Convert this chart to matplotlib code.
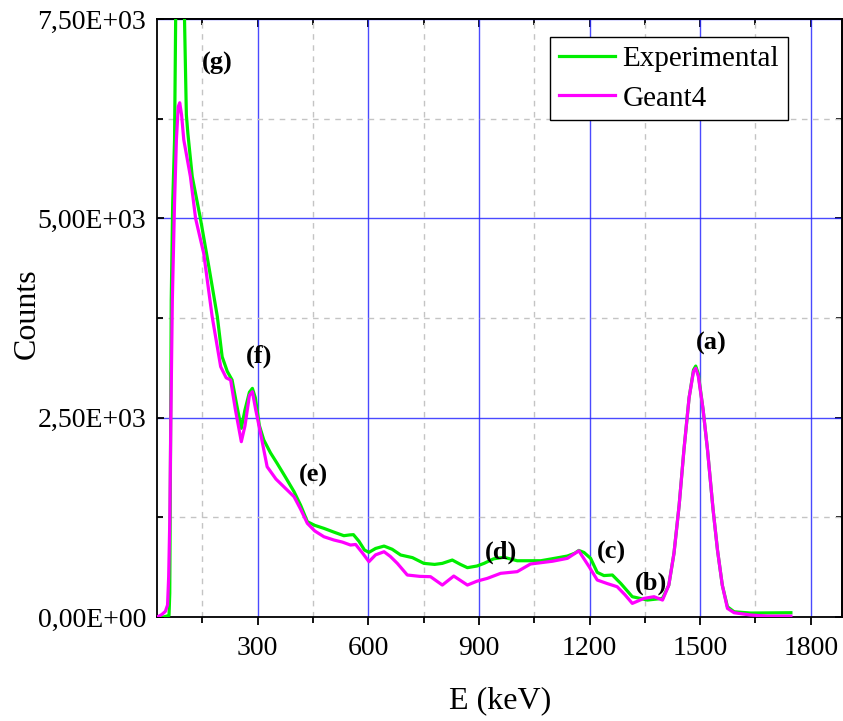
import matplotlib
matplotlib.use('Agg')
import matplotlib.pyplot as plt
import matplotlib.ticker as mticker

# energy (keV) / counts
exp_e = [28, 45, 60, 62, 64, 66, 70, 75, 78, 84, 90, 96, 102, 107, 111, 123, 145, 168,
         191, 204, 218, 231, 244, 256, 266, 278, 286, 294, 305, 317, 335, 353, 375, 399,
         417, 435, 455, 480, 507, 534, 550, 560, 575, 590, 602, 620, 643, 665, 688, 720,
         751, 780, 801, 828, 850, 869, 895, 914, 940, 968, 1004, 1068, 1110, 1140, 1160,
         1171, 1185, 1203, 1221, 1239, 1262, 1285, 1316, 1357, 1398, 1415, 1429, 1443,
         1456, 1470, 1482, 1488, 1495, 1508, 1520, 1535, 1547, 1560, 1574, 1592, 1637,
         1690, 1746]
exp_counts = [0, 0, 20, 300, 2000, 3976, 5200, 5985, 7500, 9200, 9800, 9000, 7500, 6300,
              6070, 5523, 5000, 4394, 3767, 3265, 3080, 2973, 2650, 2367, 2600, 2820, 2868,
              2750, 2400, 2220, 2060, 1928, 1760, 1572, 1400, 1196, 1150, 1112, 1065, 1020,
              1030, 1033, 950, 840, 811, 860, 890, 850, 778, 745, 673, 660, 673, 715, 660,
              619, 640, 673, 730, 749, 706, 706, 740, 765, 800, 835, 810, 736, 560, 520,
              527, 420, 255, 213, 234, 400, 799, 1400, 2095, 2750, 3100, 3148, 3050, 2600,
              2095, 1350, 840, 400, 129, 66, 50, 52, 54]

g4_e = [28, 40, 50, 56, 59, 62, 65, 69, 75, 80, 85, 89, 94, 100, 105, 118, 132, 154, 177,
        200, 215, 227, 240, 256, 266, 278, 286, 295, 308, 326, 350, 371, 399, 417, 435,
        455, 480, 507, 530, 552, 566, 585, 602, 620, 643, 660, 679, 706, 740, 769, 801,
        832, 869, 895, 923, 959, 1004, 1040, 1100, 1140, 1171, 1199, 1221, 1248, 1275,
        1296, 1316, 1348, 1375, 1398, 1415, 1429, 1443, 1456, 1470, 1482, 1488, 1495,
        1508, 1520, 1535, 1547, 1560, 1574, 1592, 1637, 1682, 1746]
g4_counts = [0, 30, 70, 150, 500, 1200, 2500, 3976, 5200, 5985, 6400, 6450, 6300, 5985,
             5858, 5523, 5000, 4562, 3767, 3140, 3000, 2973, 2600, 2199, 2400, 2780, 2826,
             2600, 2307, 1885, 1730, 1635, 1509, 1350, 1175, 1080, 1007, 966, 940, 903, 910,
             800, 694, 780, 819, 760, 673, 527, 510, 506, 401, 514, 401, 450, 485, 548, 569,
             665, 700, 736, 830, 631, 464, 420, 380, 280, 171, 234, 255, 213, 400, 799, 1400,
             2095, 2750, 3080, 3120, 3020, 2600, 2095, 1350, 840, 400, 108, 54, 25, 12, 12]

# peak labels and where they sit
peak_labels = ['(a)', '(b)', '(c)', '(d)', '(e)', '(f)', '(g)']
peak_e = [1531, 1368, 1259, 959, 451, 303, 191]
peak_counts = [3437, 426, 815, 811, 1772, 3265, 6949]

plt.rcParams['font.family'] = ['Liberation Serif', 'DejaVu Serif']

fig = plt.figure(figsize=(8.43, 7.21), dpi=100)
ax = fig.add_axes([0.1865, 0.1442, 0.8125, 0.8294])

ax.plot(exp_e, exp_counts, color='#00ee00', lw=2.3, label='Experimental',
        solid_joinstyle='round', zorder=3)
ax.plot(g4_e, g4_counts, color='#ff00ff', lw=2.3, label='Geant4',
        solid_joinstyle='round', zorder=4)

for lab, xe, yc in zip(peak_labels, peak_e, peak_counts):
    ax.text(xe, yc, lab, fontsize=19, fontweight='bold', ha='center', va='center', zorder=5)

ax.set_xlim(28, 1885)
ax.set_ylim(0, 7500)
ax.xaxis.set_major_locator(mticker.MultipleLocator(300))
ax.xaxis.set_minor_locator(mticker.MultipleLocator(150))
ax.yaxis.set_major_locator(mticker.MultipleLocator(2500))
ax.yaxis.set_minor_locator(mticker.MultipleLocator(1250))
ax.yaxis.set_major_formatter(mticker.FuncFormatter(lambda v, p: f'{v:.2E}'.replace('.', ',')))

ax.grid(which='major', color='#2a2aff', lw=1.0, alpha=0.85)
ax.grid(which='minor', color='#c4c4c4', lw=1.0, ls=(0, (4, 4)))
ax.set_axisbelow(True)

ax.tick_params(axis='x', which='major', direction='out', length=6, width=1.3,
               labelsize=20, pad=8)
ax.tick_params(axis='x', which='minor', direction='out', length=4, width=1.3)
ax.tick_params(axis='y', which='major', direction='in', length=5, width=1.3,
               labelsize=20, pad=8)
ax.tick_params(axis='y', which='minor', direction='in', length=4, width=1.3)

# top / right ticks point inward
top = ax.secondary_xaxis('top')
top.xaxis.set_major_locator(mticker.MultipleLocator(300))
top.xaxis.set_minor_locator(mticker.MultipleLocator(150))
top.tick_params(which='major', direction='in', length=6, width=1.3, labeltop=False)
top.tick_params(which='minor', direction='in', length=4, width=1.3)
right = ax.secondary_yaxis('right')
right.yaxis.set_major_locator(mticker.MultipleLocator(2500))
right.yaxis.set_minor_locator(mticker.MultipleLocator(1250))
right.tick_params(which='major', direction='in', length=5, width=1.3, labelright=False)
right.tick_params(which='minor', direction='in', length=4, width=1.3)

for sp in list(ax.spines.values()) + [top.spines['top'], right.spines['right']]:
    sp.set_linewidth(1.3)

ax.set_xlabel('E (keV)', fontsize=23, labelpad=18)
ax.set_ylabel('Counts', fontsize=23)
ax.yaxis.set_label_coords(-0.168, 0.507)

leg = ax.legend(loc='upper right', bbox_to_anchor=(0.921, 0.970), borderaxespad=0,
                fontsize=21, fancybox=False, edgecolor='black', framealpha=1,
                handlelength=1.95, handletextpad=0.25, labelspacing=0.45,
                borderpad=0.3)
leg.get_frame().set_linewidth(1.0)

fig.savefig('out.png', dpi=100)
